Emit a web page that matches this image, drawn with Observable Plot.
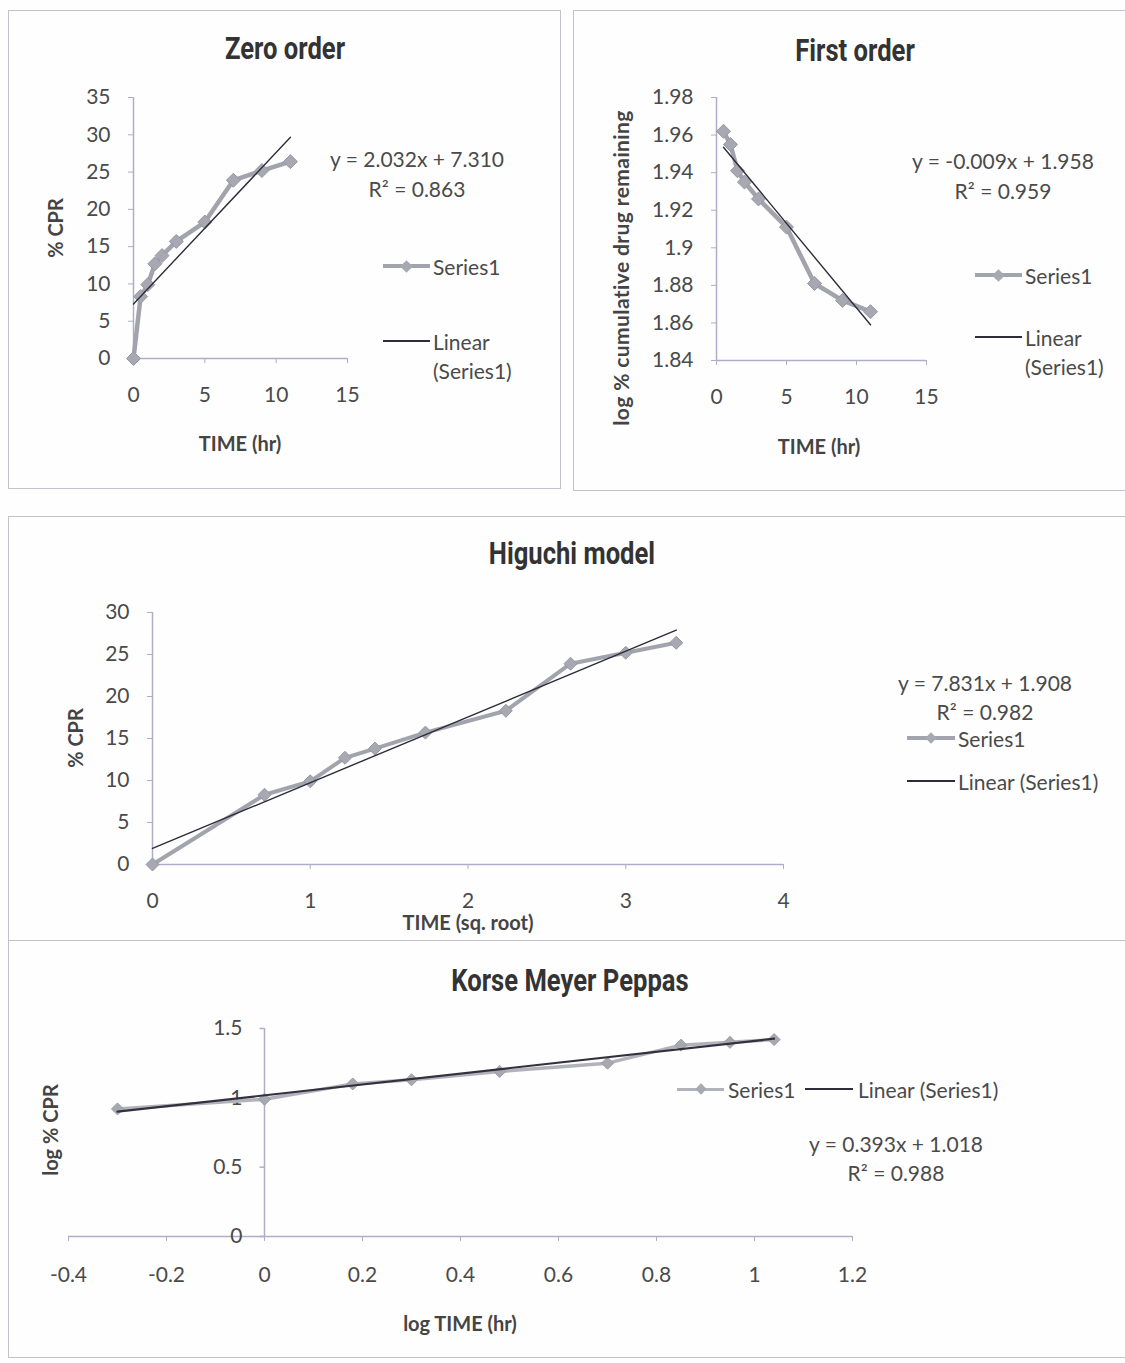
<!DOCTYPE html>
<html>
<head>
<meta charset="utf-8">
<script src="https://cdn.jsdelivr.net/npm/d3@7"></script>
<script src="https://cdn.jsdelivr.net/npm/@observablehq/plot@0.6"></script>
<style>
  body { margin: 0; background: #ffffff; }
  #page { position: relative; width: 1125px; height: 1363px; background: #fefefe; overflow: hidden;
          font-family: Lato, "Open Sans", sans-serif; color: #4a4a4a; }
  .panel { position: absolute; border: 1.5px solid #c2c2ca; box-sizing: border-box; }
  .t { position: absolute; white-space: nowrap; transform: translate(-50%, -50%); font-size: 21px; line-height: 1; }
  .tl { position: absolute; white-space: nowrap; transform: translate(0, -50%); font-size: 21px; line-height: 1; }
  .title { font-family: Roboto, "DejaVu Sans", sans-serif; font-weight: 700; font-size: 32px; color: #333;
           transform: translate(-50%, -50%) scaleX(0.8); }
  .axl { font-weight: 700; font-size: 20px; color: #444; }
  .axl.long { font-size: 21px; letter-spacing: 0.4px; }
  .rot { transform: translate(-50%, -50%) rotate(-90deg); }
  .sw { position: absolute; }
</style>
</head>
<body>
<div id="page"></div>
<script>
// ---------- data ----------
const zeroTime = [0, 0.5, 1, 1.5, 2, 3, 5, 7, 9, 11];
const zeroCPR = [0, 8.3, 9.9, 12.7, 13.8, 15.7, 18.3, 23.9, 25.2, 26.4];

const firstTime = [0.5, 1, 1.5, 2, 3, 5, 7, 9, 11];
const firstLogRemain = [1.962, 1.955, 1.941, 1.935, 1.926, 1.911, 1.881, 1.872, 1.866];

const higuchiSqrtTime = [0, 0.71, 1, 1.22, 1.41, 1.73, 2.24, 2.65, 3, 3.32];
const higuchiCPR = [0, 8.3, 9.9, 12.7, 13.8, 15.7, 18.3, 23.9, 25.2, 26.4];

const kmpLogTime = [-0.30, 0, 0.18, 0.30, 0.48, 0.70, 0.85, 0.95, 1.04];
const kmpLogCPR = [0.92, 0.99, 1.10, 1.13, 1.19, 1.25, 1.38, 1.40, 1.42];

const trendSlope = [2.032, -0.009, 7.831, 0.393];
const trendIntercept = [7.310, 1.958, 1.908, 1.018];
const trendR2 = [0.863, 0.959, 0.982, 0.988];

const titles = ["Zero order", "First order", "Higuchi model", "Korse Meyer Peppas"];
const xLabels = ["TIME (hr)", "TIME (hr)", "TIME (sq. root)", "log TIME (hr)"];
const yLabels = ["% CPR", "log % cumulative drug remaining", "% CPR", "log % CPR"];
const seriesName = "Series1";
const trendName = "Linear (Series1)";

const zeroXTicks = [0, 5, 10, 15];
const zeroYTicks = [0, 5, 10, 15, 20, 25, 30, 35];
const firstXTicks = [0, 5, 10, 15];
const firstYTicks = [1.84, 1.86, 1.88, 1.9, 1.92, 1.94, 1.96, 1.98];
const higuchiXTicks = [0, 1, 2, 3, 4];
const higuchiYTicks = [0, 5, 10, 15, 20, 25, 30];
const kmpXTicks = [-0.4, -0.2, 0, 0.2, 0.4, 0.6, 0.8, 1, 1.2];
const kmpYTicks = [0, 0.5, 1, 1.5];

// ---------- styling ----------
const AX = "#aeaec8";
const TXT = "#4a4a4a";
const SER = "#a3a3ad";
const SERFILL = "#a8a8b2";
const TREND = "#2e2c3a";

const page = document.getElementById("page");

// square-ish diamond like Excel markers
const diamond = {
  draw(ctx, size) {
    const s = Math.sqrt(size / Math.PI);
    ctx.moveTo(0, -s); ctx.lineTo(s, 0); ctx.lineTo(0, s); ctx.lineTo(-s, 0); ctx.closePath();
  }
};
const tickLeft = { draw(ctx) { ctx.moveTo(-5, 0); ctx.lineTo(0, 0); } };

function zip(xs, ys) { return xs.map((x, i) => ({x, y: ys[i]})); }
function trend(k, xs) {
  const lo = d3.min(xs), hi = d3.max(xs);
  return [lo, hi].map(x => ({x, y: trendSlope[k] * x + trendIntercept[k]}));
}

function addPlot(frame, xDomain, yDomain, marks, yAxisOff) {
  const mL = 80, mR = 50, mT = 20, mB = 70;
  const w = frame.x1 - frame.x0 + mL + mR;
  const h = frame.y1 - frame.y0 + mT + mB;
  const svg = Plot.plot({
    width: w, height: h,
    marginLeft: mL, marginRight: mR, marginTop: mT, marginBottom: mB,
    x: {domain: xDomain, label: null},
    y: yAxisOff ? {domain: yDomain, label: null, axis: null} : {domain: yDomain, label: null},
    style: {fontFamily: "Lato, 'Open Sans', sans-serif", fontSize: "21px", color: TXT, background: "transparent", overflow: "visible"},
    marks
  });
  svg.style.position = "absolute";
  svg.style.left = (frame.x0 - mL) + "px";
  svg.style.top = (frame.y0 - mT) + "px";
  page.appendChild(svg);
}

function stdAxes(xDomain, yDomain, xTicks, yTicks) {
  return [
    Plot.axisX(xTicks, {tickSize: 5, tickPadding: 24, stroke: AX, fill: TXT, tickFormat: d => String(d), label: null}),
    Plot.axisY(yTicks, {tickSize: 5, tickPadding: 18, stroke: AX, fill: TXT, tickFormat: d => String(d), label: null}),
    Plot.ruleX([xDomain[0]], {stroke: AX, strokeWidth: 1.5}),
    Plot.ruleY([yDomain[0]], {stroke: AX, strokeWidth: 1.5})
  ];
}

function seriesMarks(data, k, xs, lw, r, tw) {
  return [
    Plot.line(data, {x: "x", y: "y", stroke: SER, strokeWidth: lw, strokeLinejoin: "round"}),
    Plot.dot(data, {x: "x", y: "y", symbol: diamond, r, fill: SERFILL, stroke: "#9898a4", strokeWidth: 1}),
    Plot.line(trend(k, xs), {x: "x", y: "y", stroke: TREND, strokeWidth: tw})
  ];
}

function el(cls, text, x, y, extra) {
  const d = document.createElement("div");
  d.className = cls;
  d.textContent = text;
  d.style.left = x + "px";
  d.style.top = y + "px";
  if (extra) Object.assign(d.style, extra);
  page.appendChild(d);
  return d;
}
function panel(x, y, w, h) {
  const d = document.createElement("div");
  d.className = "panel";
  Object.assign(d.style, {left: x + "px", top: y + "px", width: w + "px", height: h + "px"});
  page.appendChild(d);
}
function swatch(x1, x2, y, color, width, withDiamond, ds) {
  const d = document.createElement("div");
  d.className = "sw";
  Object.assign(d.style, {left: x1 + "px", top: (y - width / 2) + "px", width: (x2 - x1) + "px", height: width + "px", background: color});
  page.appendChild(d);
  if (withDiamond) {
    const m = document.createElement("div");
    m.className = "sw";
    const s = ds || 9;
    Object.assign(m.style, {left: ((x1 + x2) / 2 - s / 2) + "px", top: (y - s / 2) + "px", width: s + "px", height: s + "px",
      background: SERFILL, transform: "rotate(45deg)"});
    page.appendChild(m);
  }
}
function eq(k) { return `y = ${trendSlope[k].toFixed(3)}x + ${trendIntercept[k].toFixed(3)}`; }
function r2(k) { return `R² = ${trendR2[k].toFixed(3)}`; }

// ---------- panel frames ----------
panel(8, 10, 553, 479);
panel(573, 10, 560, 481);
panel(8, 516, 1125, 425);
panel(8, 940, 1125, 418);

// ---------- 1: Zero order ----------
{
  const xd = [0, 15], yd = [0, 35];
  addPlot({x0: 133, x1: 347, y0: 97, y1: 358}, xd, yd, [
    ...stdAxes(xd, yd, zeroXTicks, zeroYTicks),
    ...seriesMarks(zip(zeroTime, zeroCPR), 0, zeroTime, 4.5, 7, 1.4)
  ]);
  el("t title", titles[0], 285, 48);
  el("t axl rot", yLabels[0], 55, 228);
  el("t axl", xLabels[0], 240, 443);
  el("t", eq(0), 417, 158);
  el("t", r2(0), 417, 188);
  swatch(383, 430, 266, SER, 4, true);
  el("tl", seriesName, 433, 266);
  swatch(383, 430, 341, TREND, 1.5, false);
  el("tl", "Linear", 433, 341);
  el("tl", "(Series1)", 433, 370);
}

// ---------- 2: First order ----------
{
  const xd = [0, 15], yd = [1.84, 1.98];
  addPlot({x0: 716, x1: 926, y0: 97, y1: 360}, xd, yd, [
    ...stdAxes(xd, yd, firstXTicks, firstYTicks),
    ...seriesMarks(zip(firstTime, firstLogRemain), 1, firstTime, 4.5, 7, 1.4)
  ]);
  el("t title", titles[1], 855, 50);
  el("t axl long rot", yLabels[1], 620, 268);
  el("t axl", xLabels[1], 819, 446);
  el("t", eq(1), 1003, 160);
  el("t", r2(1), 1003, 190);
  swatch(975, 1022, 275, SER, 4, true);
  el("tl", seriesName, 1025, 275);
  swatch(975, 1022, 337, TREND, 1.5, false);
  el("tl", "Linear", 1025, 337);
  el("tl", "(Series1)", 1025, 366);
}

// ---------- 3: Higuchi ----------
{
  const xd = [0, 4], yd = [0, 30];
  addPlot({x0: 152, x1: 783, y0: 612, y1: 864}, xd, yd, [
    ...stdAxes(xd, yd, higuchiXTicks, higuchiYTicks),
    ...seriesMarks(zip(higuchiSqrtTime, higuchiCPR), 2, higuchiSqrtTime, 4, 6.5, 1.4)
  ]);
  el("t title", titles[2], 572, 553);
  el("t axl rot", yLabels[2], 75, 738);
  el("t axl", xLabels[2], 468, 922);
  el("t", eq(2), 985, 682);
  el("t", r2(2), 985, 711);
  swatch(907, 955, 738, SER, 3.5, true, 8);
  el("tl", seriesName, 958, 738);
  swatch(907, 955, 781, TREND, 1.5, false);
  el("tl", trendName, 958, 781);
}

// ---------- 4: Korsmeyer-Peppas ----------
{
  const xd = [-0.4, 1.2], yd = [0, 1.5];
  addPlot({x0: 68, x1: 852, y0: 1028, y1: 1236}, xd, yd, [
    Plot.axisX(kmpXTicks, {tickSize: 5, tickPadding: 26, stroke: AX, fill: TXT, tickFormat: d => String(d), label: null}),
    Plot.ruleY([0], {stroke: AX, strokeWidth: 1.5}),
    Plot.ruleX([0], {stroke: AX, strokeWidth: 1.5}),
    Plot.dot(kmpYTicks, {x: 0, y: d => d, symbol: tickLeft, r: 3, stroke: AX, strokeWidth: 1.5, fill: "none"}),
    Plot.text(kmpYTicks, {x: 0, y: d => d, text: d => String(d), dx: -22, textAnchor: "end", fill: TXT, fontSize: 21}),
    Plot.line(zip(kmpLogTime, kmpLogCPR), {x: "x", y: "y", stroke: "#b2b2ba", strokeWidth: 3.5}),
    Plot.dot(zip(kmpLogTime, kmpLogCPR), {x: "x", y: "y", symbol: diamond, r: 6, fill: "#a8a8b0", stroke: "#9a9aa4", strokeWidth: 1}),
    Plot.line(trend(3, kmpLogTime), {x: "x", y: "y", stroke: "#34303e", strokeWidth: 2.2})
  ], true);
  el("t title", titles[3], 570, 980);
  el("t axl rot", yLabels[3], 50, 1130);
  el("t axl", xLabels[3], 460, 1323);
  swatch(677, 724, 1089, "#b2b2ba", 3, true, 8);
  el("tl", seriesName, 728, 1089);
  swatch(805, 853, 1089, TREND, 1.5, false);
  el("tl", trendName, 858, 1089);
  el("t", eq(3), 896, 1143);
  el("t", r2(3), 896, 1172);
}
</script>
</body>
</html>
